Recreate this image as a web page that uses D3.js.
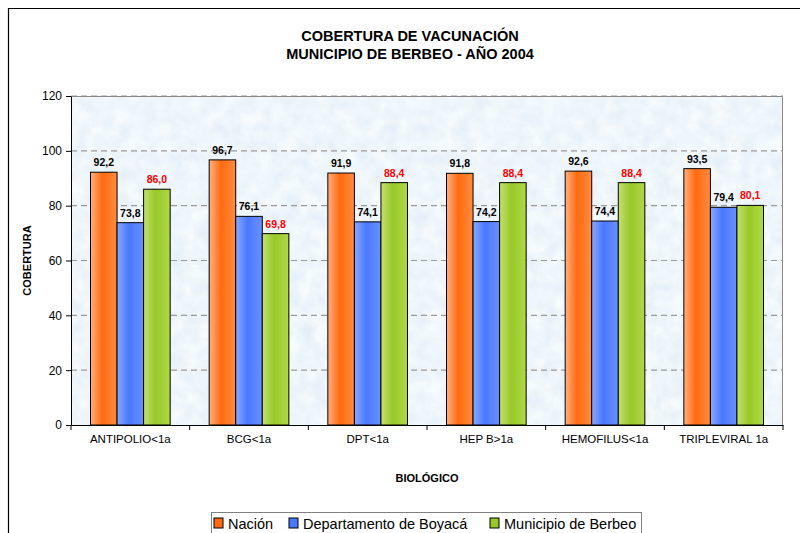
<!DOCTYPE html>
<html>
<head>
<meta charset="utf-8">
<script src="https://cdn.jsdelivr.net/npm/d3@7"></script>
<style>
  body { margin: 0; background: #fff; }
  svg { display: block; font-family: Arial, 'Liberation Sans', sans-serif; }
</style>
</head>
<body>
<div id="chart"></div>
<script>
const categories = ['ANTIPOLIO<1a', 'BCG<1a', 'DPT<1a', 'HEP B>1a', 'HEMOFILUS<1a', 'TRIPLEVIRAL 1a']
const seriesNames = ['Nación', 'Departamento de Boyacá', 'Municipio de Berbeo']
const nacion = [92.2, 96.7, 91.9, 91.8, 92.6, 93.5]
const boyaca = [73.8, 76.1, 74.1, 74.2, 74.4, 79.4]
const berbeo = [86.0, 69.8, 88.4, 88.4, 88.4, 80.1]
const yTicks = [0, 20, 40, 60, 80, 100, 120]

const width = 800, height = 533
const margin = { top: 96, right: 17, bottom: 108, left: 71 }
const plotW = width - margin.left - margin.right
const plotH = height - margin.top - margin.bottom

const series = [nacion, boyaca, berbeo]
const colors = [
  ['#ffb080', '#ff6a10', '#ff8c40'],
  ['#88a8ff', '#4a78ff', '#6a90ff'],
  ['#c4e070', '#98c828', '#b0d848']
]

const svg = d3.select('#chart').append('svg')
  .attr('width', width)
  .attr('height', height)

const defs = svg.append('defs')
const filter = defs.append('filter').attr('id', 'tex')
  .attr('x', 0).attr('y', 0).attr('width', 1).attr('height', 1)
filter.append('feTurbulence')
  .attr('type', 'fractalNoise')
  .attr('baseFrequency', 0.07)
  .attr('numOctaves', 4)
  .attr('seed', 3)
filter.append('feColorMatrix')
  .attr('type', 'matrix')
  .attr('values', '0.2 0 0 0 0.76  0.16 0 0 0 0.84  0.07 0 0 0 0.93  0 0 0 0 1')

colors.forEach((c, i) => {
  const g = defs.append('linearGradient').attr('id', 'grad' + i)
    .attr('x1', 0).attr('x2', 1).attr('y1', 0).attr('y2', 0)
  g.append('stop').attr('offset', '0%').attr('stop-color', c[0])
  g.append('stop').attr('offset', '45%').attr('stop-color', c[1])
  g.append('stop').attr('offset', '100%').attr('stop-color', c[2])
})

// outer frame
svg.append('path')
  .attr('d', `M8.5,${height} V8.5 H${width}`)
  .attr('fill', 'none')
  .attr('stroke', '#000')
  .attr('stroke-width', 1.2)

svg.append('text')
  .attr('x', 410).attr('y', 41)
  .attr('text-anchor', 'middle')
  .attr('font-size', 14.5).attr('font-weight', 'bold')
  .text('COBERTURA DE VACUNACIÓN')
svg.append('text')
  .attr('x', 410).attr('y', 59)
  .attr('text-anchor', 'middle')
  .attr('font-size', 14.5).attr('font-weight', 'bold')
  .text('MUNICIPIO DE BERBEO - AÑO 2004')

const g = svg.append('g').attr('transform', `translate(${margin.left},${margin.top})`)

const x0 = d3.scaleBand().domain(categories).range([0, plotW])
const x1 = d3.scaleBand().domain(d3.range(series.length))
  .range([19.5, x0.bandwidth() - 19.5])
const y = d3.scaleLinear().domain([0, 120]).range([plotH, 0])

g.append('rect')
  .attr('width', plotW).attr('height', plotH)
  .attr('fill', '#dae8f6')
  .attr('filter', 'url(#tex)')

g.append('g')
  .selectAll('line')
  .data(yTicks.filter(d => d > 0))
  .join('line')
  .attr('x1', 0).attr('x2', plotW)
  .attr('y1', d => y(d)).attr('y2', d => y(d))
  .attr('stroke', '#9a9a9a')
  .attr('stroke-width', 1.2)
  .attr('stroke-dasharray', '6,4')

g.append('path')
  .attr('d', `M0,0.5 H${plotW - 0.5} V${plotH}`)
  .attr('fill', 'none')
  .attr('stroke', '#888')

const groups = g.selectAll('.grp')
  .data(categories)
  .join('g')
  .attr('class', 'grp')
  .attr('transform', d => `translate(${x0(d)},0)`)

groups.selectAll('rect')
  .data((d, i) => series.map((s, k) => ({ k, v: s[i] })))
  .join('rect')
  .attr('x', d => x1(d.k))
  .attr('width', x1.bandwidth())
  .attr('y', d => y(d.v))
  .attr('height', d => plotH - y(d.v))
  .attr('fill', d => `url(#grad${d.k})`)
  .attr('stroke', '#000')
  .attr('stroke-width', 1)

groups.selectAll('text')
  .data((d, i) => series.map((s, k) => ({ k, v: s[i] })))
  .join('text')
  .attr('x', d => x1(d.k) + x1.bandwidth() / 2)
  .attr('y', d => y(d.v) - 6)
  .attr('text-anchor', 'middle')
  .attr('font-size', 10.5).attr('font-weight', 'bold')
  .attr('fill', d => d.k === 2 ? '#ff0000' : '#000')
  .text(d => d.v.toFixed(1).replace('.', ','))

const yAxis = g.append('g')
  .call(d3.axisLeft(y).tickValues(yTicks).tickSize(5).tickSizeOuter(0))
yAxis.select('.domain').attr('stroke', '#000')
yAxis.selectAll('text').attr('font-size', 12).attr('font-family', 'Arial, Liberation Sans, sans-serif').attr('fill', '#000').attr('dx', -1)

const xAxis = g.append('g')
  .attr('transform', `translate(0,${plotH})`)
  .call(d3.axisBottom(x0).tickSize(0).tickSizeOuter(0))
xAxis.select('.domain').attr('stroke', '#000')
xAxis.selectAll('text').attr('font-size', 11.5).attr('font-family', 'Arial, Liberation Sans, sans-serif').attr('fill', '#000').attr('dy', '1.3em')

g.append('g')
  .selectAll('line')
  .data(d3.range(categories.length + 1))
  .join('line')
  .attr('x1', d => d * x0.step()).attr('x2', d => d * x0.step())
  .attr('y1', plotH).attr('y2', plotH + 5)
  .attr('stroke', '#000')

svg.append('text')
  .attr('transform', `translate(31,${margin.top + plotH / 2}) rotate(-90)`)
  .attr('text-anchor', 'middle')
  .attr('font-size', 11).attr('font-weight', 'bold')
  .text('COBERTURA')

svg.append('text')
  .attr('x', 427).attr('y', 482)
  .attr('text-anchor', 'middle')
  .attr('font-size', 11).attr('font-weight', 'bold')
  .text('BIOLÓGICO')

// legend
const legend = svg.append('g').attr('transform', 'translate(211,512)')
legend.append('rect')
  .attr('x', 0.5).attr('y', 0.5)
  .attr('width', 430).attr('height', 30)
  .attr('fill', '#fff')
  .attr('stroke', '#808080')
const legX = [3, 78, 279]
const items = legend.selectAll('.item')
  .data(seriesNames)
  .join('g')
  .attr('class', 'item')
  .attr('transform', (d, i) => `translate(${legX[i]},6)`)
items.append('rect')
  .attr('width', 9).attr('height', 10)
  .attr('fill', (d, i) => colors[i][1])
  .attr('stroke', '#000')
items.append('text')
  .attr('x', 14).attr('y', 11)
  .attr('font-size', 14.5)
  .text(d => d)
</script>
</body>
</html>
